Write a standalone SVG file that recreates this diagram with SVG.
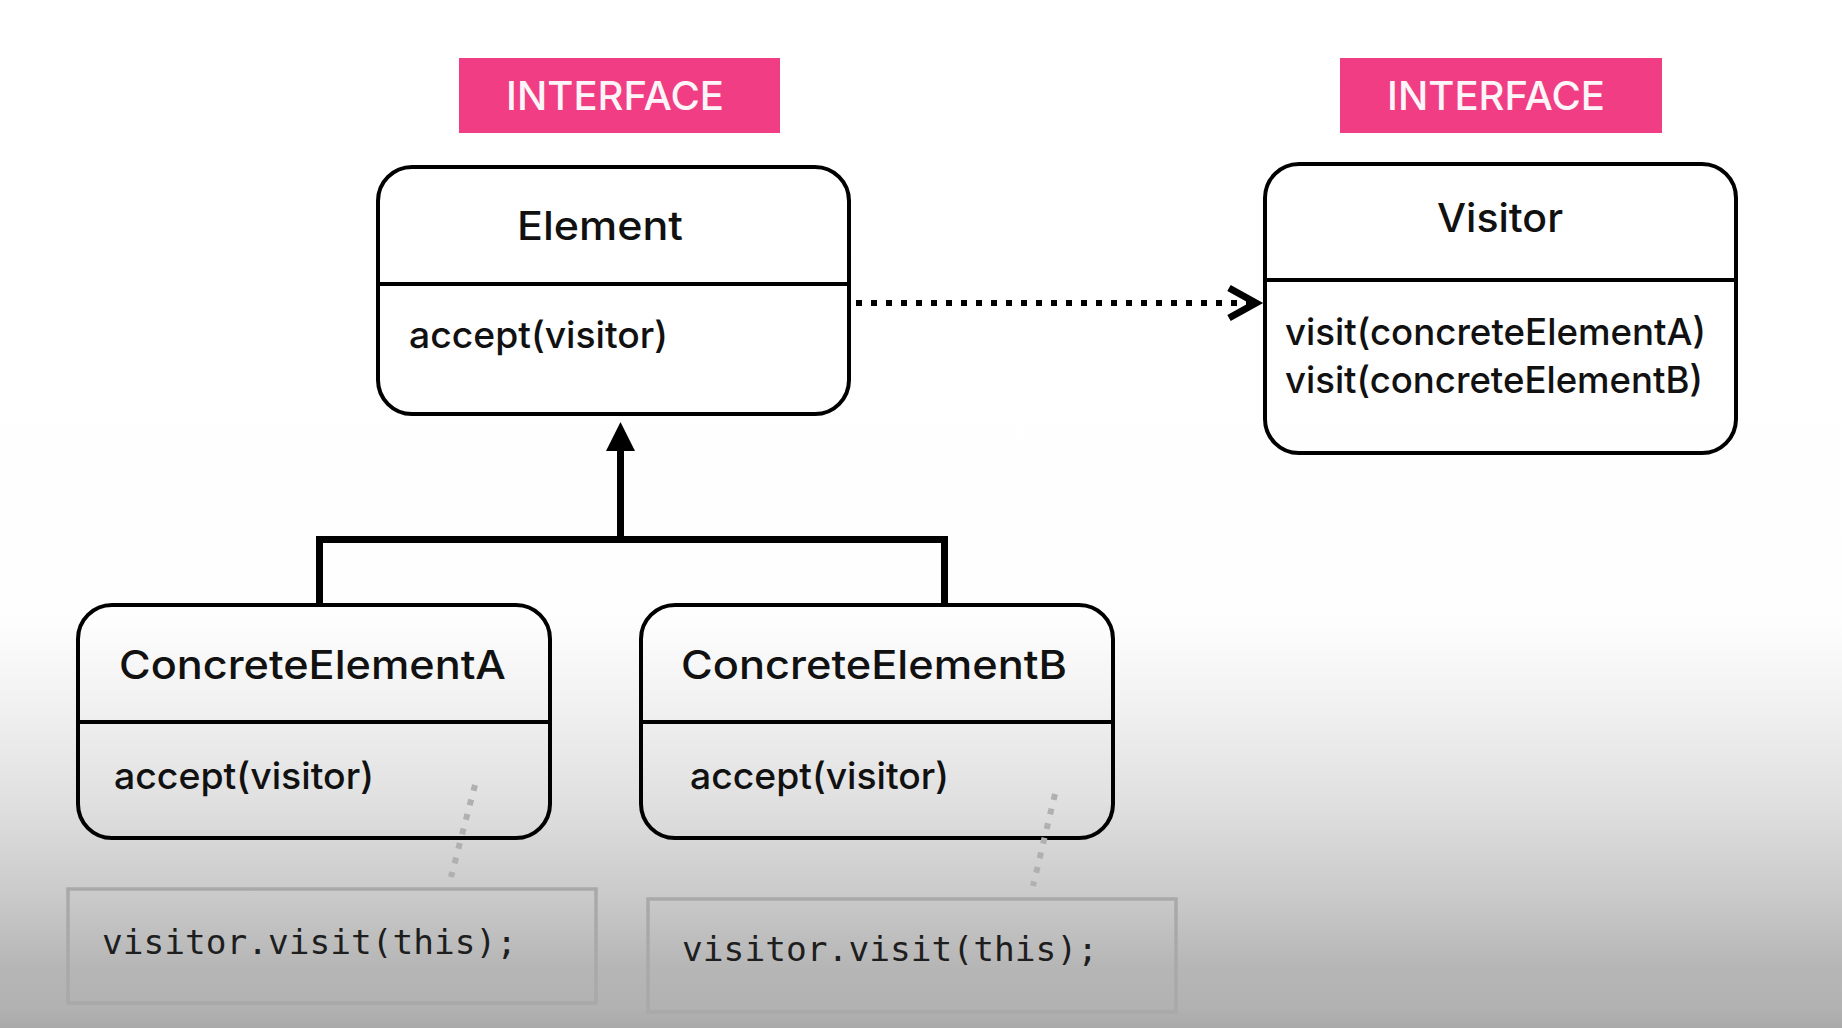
<svg xmlns="http://www.w3.org/2000/svg" width="1842" height="1028" viewBox="0 0 1842 1028">
<defs>
<linearGradient id="bg" x1="0" y1="0" x2="0" y2="1028" gradientUnits="userSpaceOnUse">
<stop offset="0" stop-color="#ffffff"/>
<stop offset="0.6" stop-color="#fefefe"/>
<stop offset="0.68" stop-color="#f2f2f2"/>
<stop offset="0.78" stop-color="#e0e0e0"/>
<stop offset="0.875" stop-color="#c9c9c9"/>
<stop offset="0.94" stop-color="#b6b6b6"/>
<stop offset="0.98" stop-color="#b2b2b2"/>
<stop offset="1" stop-color="#a9a9a9"/>
</linearGradient>
</defs>
<style>
.box{fill:none;stroke:#000;stroke-width:4}
.div{stroke:#000;stroke-width:4}
.t{font-family:Inter,"Open Sans","Liberation Sans",sans-serif;font-weight:500;fill:#111}
.title{font-size:40px}
.op{font-size:37px}
.tag{fill:#f03d84}
.tagt{font-family:Inter,"Open Sans","Liberation Sans",sans-serif;font-size:40px;font-weight:500;fill:#fdf5f8}
.code{fill:none;stroke:#a9a9a9;stroke-width:3.5}
.ct{font-family:"DejaVu Sans Mono","Liberation Mono",monospace;font-size:34px;fill:#1e1e1e}
.gdot{stroke:#b0b0b0;stroke-width:6;stroke-dasharray:6 9;fill:none}
</style>
<rect x="0" y="0" width="1842" height="1028" fill="url(#bg)"/>

<g id="tag-element">
<rect class="tag" x="459" y="58" width="321" height="75"/>
<text class="tagt" x="506" y="110" textLength="218" lengthAdjust="spacingAndGlyphs">INTERFACE</text>
</g>
<g id="tag-visitor">
<rect class="tag" x="1340" y="58" width="322" height="75"/>
<text class="tagt" x="1387" y="110" textLength="218" lengthAdjust="spacingAndGlyphs">INTERFACE</text>
</g>

<g id="element">
<rect class="box" x="378" y="167" width="471" height="247" rx="34"/>
<line class="div" x1="378" y1="284" x2="849" y2="284"/>
<text class="t title" x="517" y="240" textLength="166" lengthAdjust="spacingAndGlyphs">Element</text>
<text class="t op" x="409" y="348" textLength="259" lengthAdjust="spacingAndGlyphs">accept(visitor)</text>
</g>

<g id="visitor">
<rect class="box" x="1265" y="164" width="471" height="289" rx="34"/>
<line class="div" x1="1265" y1="280" x2="1736" y2="280"/>
<text class="t title" x="1437" y="232" textLength="126" lengthAdjust="spacingAndGlyphs">Visitor</text>
<text class="t op" x="1285" y="345" textLength="421" lengthAdjust="spacingAndGlyphs">visit(concreteElementA)</text>
<text class="t op" x="1285" y="393" textLength="418" lengthAdjust="spacingAndGlyphs">visit(concreteElementB)</text>
</g>

<g id="concrete-a">
<rect class="box" x="78" y="605" width="472" height="233" rx="34"/>
<line class="div" x1="78" y1="722" x2="550" y2="722"/>
<text class="t title" x="119" y="679" textLength="387" lengthAdjust="spacingAndGlyphs">ConcreteElementA</text>
<text class="t op" x="114" y="789" textLength="260" lengthAdjust="spacingAndGlyphs">accept(visitor)</text>
</g>

<g id="concrete-b">
<rect class="box" x="641" y="605" width="472" height="233" rx="34"/>
<line class="div" x1="641" y1="722" x2="1113" y2="722"/>
<text class="t title" x="681" y="679" textLength="386" lengthAdjust="spacingAndGlyphs">ConcreteElementB</text>
<text class="t op" x="690" y="789" textLength="259" lengthAdjust="spacingAndGlyphs">accept(visitor)</text>
</g>

<g id="note-a">
<rect class="code" x="68" y="889" width="528" height="114"/>
<text class="ct" x="102" y="954" textLength="415" lengthAdjust="spacingAndGlyphs">visitor.visit(this);</text>
</g>

<g id="note-b">
<rect class="code" x="648" y="899" width="528" height="113"/>
<text class="ct" x="682" y="961" textLength="416" lengthAdjust="spacingAndGlyphs">visitor.visit(this);</text>
</g>

<g id="connectors">
<line x1="856" y1="303" x2="1250" y2="303" stroke="#000" stroke-width="6" stroke-dasharray="6 9"/>
<path d="M1229 288 L1256 303 L1229 318" fill="none" stroke="#000" stroke-width="7"/>
<path d="M319.5 605 V539.5 H944.5 V605" fill="none" stroke="#000" stroke-width="7" stroke-linejoin="miter"/>
<line x1="620.5" y1="539.5" x2="620.5" y2="448" stroke="#000" stroke-width="7"/>
<polygon points="620.5,422 606,451 635,451" fill="#000"/>
<line class="gdot" x1="475" y1="785" x2="451" y2="877"/>
<line class="gdot" x1="1055" y1="794" x2="1033" y2="886"/>
</g>
</svg>
